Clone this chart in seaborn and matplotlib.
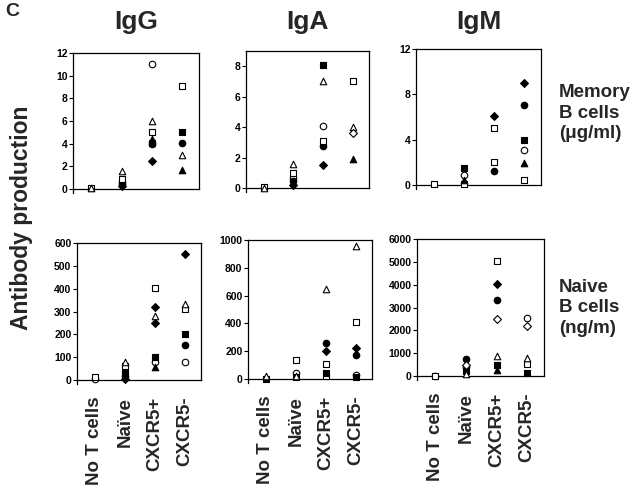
import pandas as pd
import seaborn as sns
import matplotlib.pyplot as plt

sns.set_theme(style='ticks')
plt.rcParams['font.family'] = ['Liberation Sans', 'DejaVu Sans']
plt.rcParams['font.weight'] = 'bold'

categories = ['No T cells', 'Naïve', 'CXCR5+', 'CXCR5-']

# memory B cells (ug/ml); cat = index into categories, mk = marker code
igg_mem_cat = [0, 0, 1, 1, 1, 1, 1, 2, 2, 2, 2, 2, 2, 2, 3, 3, 3, 3, 3]
igg_mem_val = [0.1, 0.05, 1.6, 0.9, 0.65, 0.4, 0.3, 11.0, 6.0, 5.0, 4.4, 4.1, 4.0, 2.5, 9.05, 5.05, 4.1, 3.0, 1.65]
igg_mem_mk = ['os', 'ot', 'ot', 'os', 'oc', 'fc', 'fd', 'oc', 'ot', 'os', 'ft', 'fs', 'fc', 'fd', 'os', 'fs', 'fc', 'ot', 'ft']

iga_mem_cat = [0, 0, 1, 1, 1, 1, 1, 2, 2, 2, 2, 2, 2, 3, 3, 3, 3]
iga_mem_val = [0.05, 0.0, 1.6, 1.0, 0.65, 0.45, 0.2, 8.05, 7.0, 4.05, 3.1, 2.75, 1.5, 7.0, 4.0, 3.6, 1.9]
iga_mem_mk = ['os', 'ot', 'ot', 'os', 'oc', 'fc', 'fd', 'fs', 'ot', 'oc', 'os', 'fc', 'fd', 'os', 'ot', 'od', 'ft']

igm_mem_cat = [0, 1, 1, 1, 1, 2, 2, 2, 2, 3, 3, 3, 3, 3, 3]
igm_mem_val = [0.05, 1.5, 0.85, 0.45, 0.1, 6.05, 5.05, 2.05, 1.2, 9.0, 7.05, 4.0, 3.1, 1.95, 0.4]
igm_mem_mk = ['os', 'fs', 'oc', 'ft', 'os', 'fd', 'os', 'os', 'fc', 'fd', 'fc', 'fs', 'oc', 'ft', 'os']

# naive B cells (ng/ml)
igg_nai_cat = [0, 0, 1, 1, 1, 1, 1, 2, 2, 2, 2, 2, 2, 2, 3, 3, 3, 3, 3, 3]
igg_nai_val = [12, 6, 80, 60, 32, 17, 6, 403, 320, 280, 250, 102, 77, 55, 553, 335, 313, 200, 153, 80]
igg_nai_mk = ['os', 'oc', 'ot', 'os', 'fs', 'oc', 'fd', 'os', 'fd', 'ot', 'fd', 'fs', 'oc', 'ft', 'fd', 'ot', 'os', 'fs', 'fc', 'oc']

iga_nai_cat = [0, 0, 1, 1, 1, 1, 2, 2, 2, 2, 2, 2, 3, 3, 3, 3, 3, 3]
iga_nai_val = [25, 3, 135, 43, 25, 15, 650, 260, 205, 105, 45, 25, 955, 410, 225, 170, 30, 12]
iga_nai_mk = ['ot', 'fs', 'os', 'oc', 'ot', 'fs', 'ot', 'fc', 'fd', 'os', 'fs', 'os', 'ot', 'os', 'fd', 'fc', 'oc', 'fs']

igm_nai_cat = [0, 0, 1, 1, 1, 1, 1, 2, 2, 2, 2, 2, 2, 2, 3, 3, 3, 3, 3]
igm_nai_val = [20, 0, 730, 480, 400, 200, 90, 5050, 4050, 3350, 2480, 880, 480, 250, 2530, 2170, 770, 520, 120]
igm_nai_mk = ['oc', 'os', 'fc', 'od', 'oc', 'fs', 'ot', 'os', 'fd', 'fc', 'od', 'ot', 'fs', 'ft', 'oc', 'od', 'ot', 'os', 'fs']

marker_style = {
    'oc': ('o', False), 'fc': ('o', True),
    'os': ('s', False), 'fs': ('s', True),
    'ot': ('^', False), 'ft': ('^', True),
    'od': ('D', False), 'fd': ('D', True),
}

fig = plt.figure(figsize=(6.4, 4.96), dpi=100)


def panel(x0, x1, ytop, yzero, ymax, yticks, cat, val, mk, title=None, xlabels=False):
    ext = 4
    ax = fig.add_axes([x0 / 640, 1 - (yzero + ext) / 496, (x1 - x0) / 640, (yzero + ext - ytop) / 496])
    df = pd.DataFrame({'cat': cat, 'val': val, 'mk': mk})
    for code, (m, filled) in marker_style.items():
        sub = df[df['mk'] == code]
        if len(sub) == 0:
            continue
        size = 16 if m == 'D' else 22
        sns.scatterplot(data=sub, x='cat', y='val', ax=ax, marker=m, s=size,
                        color='black', facecolor='black' if filled else 'white',
                        edgecolor='black', linewidth=0.8, clip_on=False, zorder=3)
    ax.set_xlim(-0.6, 3.55)
    ax.set_ylim(-ext / (yzero - ytop) * ymax, ymax)
    ax.spines['bottom'].set_position(('data', 0))
    ax.spines['right'].set_bounds(0, ymax)
    for s in ax.spines.values():
        s.set_linewidth(0.9)
        s.set_color('black')
    ax.set_yticks(yticks)
    ax.set_yticklabels([str(t) for t in yticks], fontsize=7.5, fontweight='bold')
    ax.tick_params(axis='y', length=3, width=0.8, pad=1, colors='black')
    ax.set_xticks(range(len(categories)))
    if xlabels:
        ax.set_xticklabels(categories, rotation=90, fontsize=13.5, fontweight='bold')
        ax.tick_params(axis='x', length=0, pad=12)
    else:
        ax.set_xticklabels([])
        ax.tick_params(axis='x', length=0)
    ax.set_xlabel('')
    ax.set_ylabel('')
    if title:
        fig.text((x0 + x1) / 2 / 640, 1 - 22 / 496, title, ha='center', va='center',
                 fontsize=19, fontweight='bold')
    return ax


panel(73, 199, 53, 189, 12, [0, 2, 4, 6, 8, 10, 12], igg_mem_cat, igg_mem_val, igg_mem_mk, 'IgG')
panel(246, 369, 51, 188, 9, [0, 2, 4, 6, 8], iga_mem_cat, iga_mem_val, iga_mem_mk, 'IgA')
panel(416, 541, 49, 185, 12, [0, 4, 8, 12], igm_mem_cat, igm_mem_val, igm_mem_mk, 'IgM')
panel(77, 201, 243, 380, 600, [0, 100, 200, 300, 400, 500, 600], igg_nai_cat, igg_nai_val, igg_nai_mk, xlabels=True)
panel(248, 372, 240, 379, 1000, [0, 200, 400, 600, 800, 1000], iga_nai_cat, iga_nai_val, iga_nai_mk, xlabels=True)
panel(417, 544, 239, 376, 6000, [0, 1000, 2000, 3000, 4000, 5000, 6000], igm_nai_cat, igm_nai_val, igm_nai_mk, xlabels=True)

fig.text(5 / 640, 1 - 11 / 496, 'C', ha='left', va='center', fontsize=14, fontweight='bold')
fig.text(22 / 640, 1 - 218 / 496, 'Antibody production', rotation=90, ha='center', va='center',
         fontsize=16.5, fontweight='bold')
fig.text(559 / 640, 1 - 113 / 496, 'Memory\nB cells\n(\u03bcg/ml)', ha='left', va='center',
         fontsize=13.5, fontweight='bold', linespacing=1.25)
fig.text(559 / 640, 1 - 308 / 496, 'Naive\nB cells\n(ng/m)', ha='left', va='center',
         fontsize=13.5, fontweight='bold', linespacing=1.25)

plt.savefig('out.png', dpi=100)
